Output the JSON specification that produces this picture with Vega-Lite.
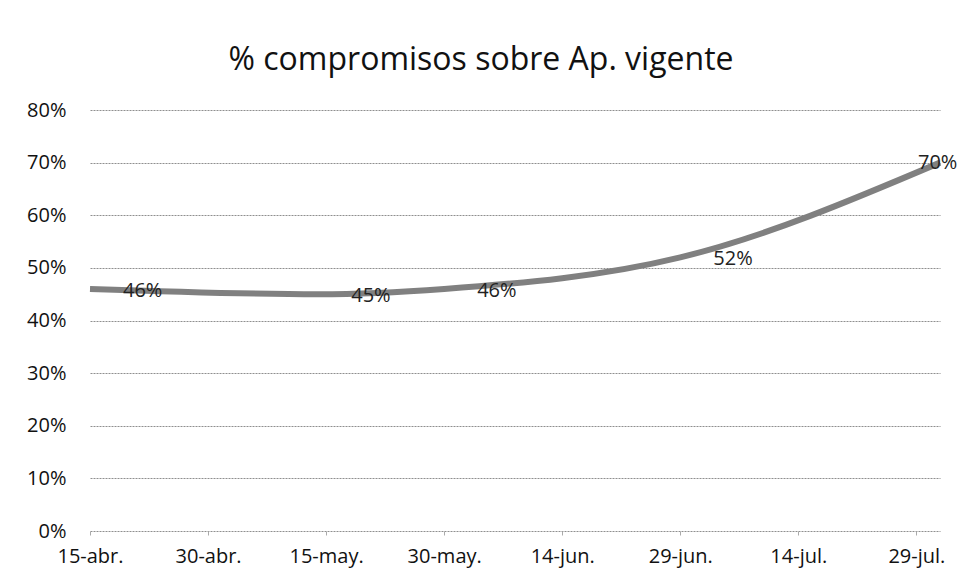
{
  "$schema": "https://vega.github.io/schema/vega-lite/v6.json",
  "autosize": "none",
  "width": 850,
  "height": 421,
  "padding": {"left": 90, "top": 110, "right": 17, "bottom": 52},
  "background": "white",
  "title": {
    "text": "% compromisos sobre Ap. vigente",
    "font": "Open Sans",
    "fontSize": 32,
    "fontWeight": "normal",
    "color": "#111111",
    "offset": 23,
    "dx": -34,
    "anchor": "middle"
  },
  "data": {
    "values": [
      {"fecha": "2013-04-15", "pct": 0.46, "ultimo": false},
      {"fecha": "2013-05-14", "pct": 0.45, "ultimo": false},
      {"fecha": "2013-05-30", "pct": 0.46, "ultimo": false},
      {"fecha": "2013-06-29", "pct": 0.52, "ultimo": false},
      {"fecha": "2013-08-01", "pct": 0.70, "ultimo": true}
    ]
  },
  "encoding": {
    "x": {
      "field": "fecha",
      "type": "temporal",
      "scale": {
        "type": "utc",
        "domain": [
          {"year": 2013, "month": 4, "date": 15, "utc": true},
          {"year": 2013, "month": 8, "date": 1, "utc": true}
        ],
        "nice": false
      },
      "axis": {
        "title": null,
        "values": [
          {"year": 2013, "month": 4, "date": 15, "utc": true},
          {"year": 2013, "month": 4, "date": 30, "utc": true},
          {"year": 2013, "month": 5, "date": 15, "utc": true},
          {"year": 2013, "month": 5, "date": 30, "utc": true},
          {"year": 2013, "month": 6, "date": 14, "utc": true},
          {"year": 2013, "month": 6, "date": 29, "utc": true},
          {"year": 2013, "month": 7, "date": 14, "utc": true},
          {"year": 2013, "month": 7, "date": 29, "utc": true}
        ],
        "labelExpr": "utcdate(datum.value) + '-' + ['ene.','feb.','mar.','abr.','may.','jun.','jul.','ago.','sep.','oct.','nov.','dic.'][utcmonth(datum.value)]",
        "grid": false,
        "domain": false,
        "ticks": true,
        "tickSize": 4,
        "tickColor": "#aaaaaa",
        "labelFont": "Open Sans",
        "labelFontSize": 20,
        "labelColor": "#111111",
        "labelPadding": 11,
        "labelOverlap": false,
        "labelFlush": false
      }
    },
    "y": {
      "field": "pct",
      "type": "quantitative",
      "scale": {"domain": [0, 0.8], "nice": false},
      "axis": {
        "title": null,
        "values": [0, 0.1, 0.2, 0.3, 0.4, 0.5, 0.6, 0.7, 0.8],
        "format": ".0%",
        "grid": true,
        "gridColor": "#8f8f8f",
        "gridDash": [2, 1],
        "gridWidth": 1,
        "domain": false,
        "ticks": false,
        "labelFont": "Open Sans",
        "labelFontSize": 20,
        "labelColor": "#111111",
        "labelPadding": 24
      }
    }
  },
  "layer": [
    {
      "mark": {"type": "line", "interpolate": "monotone", "color": "#808080", "strokeWidth": 6}
    },
    {
      "transform": [{"filter": "!datum.ultimo"}],
      "mark": {"type": "text", "align": "left", "baseline": "middle", "dx": 33, "dy": 2, "font": "Open Sans", "fontSize": 20, "color": "#222222"},
      "encoding": {"text": {"field": "pct", "type": "quantitative", "format": ".0%"}}
    },
    {
      "transform": [{"filter": "datum.ultimo"}],
      "mark": {"type": "text", "align": "left", "baseline": "middle", "dx": -22, "dy": 0, "font": "Open Sans", "fontSize": 20, "color": "#222222"},
      "encoding": {"text": {"field": "pct", "type": "quantitative", "format": ".0%"}}
    }
  ],
  "config": {"view": {"stroke": null}}
}
